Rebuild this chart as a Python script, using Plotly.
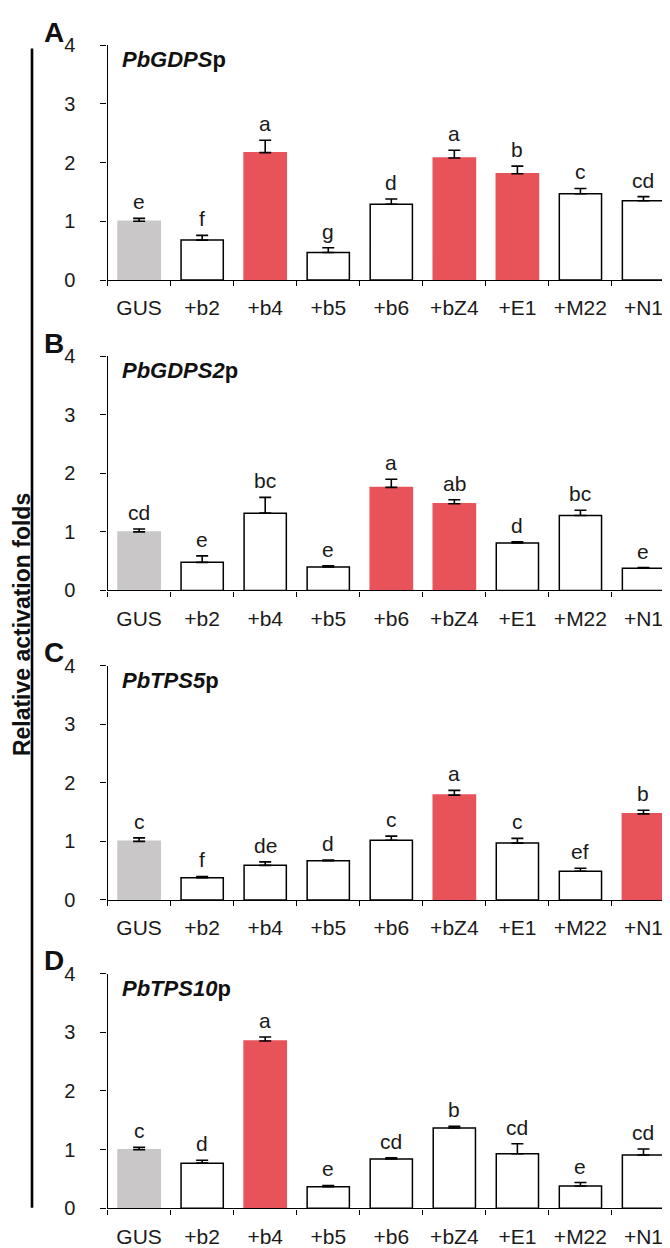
import plotly.graph_objects as go
from plotly.subplots import make_subplots

categories = ["GUS", "+b2", "+b4", "+b5", "+b6", "+bZ4", "+E1", "+M22", "+N1"]
panel_tags = ["A", "B", "C", "D"]
promoter_names = ["PbGDPS", "PbGDPS2", "PbTPS5", "PbTPS10"]
y_tick_values = [0, 1, 2, 3, 4]
y_title = "Relative activation folds"

# Panel A: PbGDPSp
a_values = [1.00, 0.68, 2.17, 0.47, 1.29, 2.08, 1.81, 1.47, 1.35]
a_errors = [0.05, 0.08, 0.21, 0.08, 0.09, 0.13, 0.13, 0.09, 0.07]
a_letters = ["e", "f", "a", "g", "d", "a", "b", "c", "cd"]
a_highlight = ["+b4", "+bZ4", "+E1"]

# Panel B: PbGDPS2p
b_values = [1.00, 0.48, 1.32, 0.40, 1.76, 1.48, 0.81, 1.28, 0.38]
b_errors = [0.05, 0.11, 0.27, 0.02, 0.14, 0.07, 0.02, 0.09, 0.01]
b_letters = ["cd", "e", "bc", "e", "a", "ab", "d", "bc", "e"]
b_highlight = ["+b6", "+bZ4"]

# Panel C: PbTPS5p
c_values = [1.00, 0.38, 0.59, 0.67, 1.02, 1.79, 0.97, 0.49, 1.47]
c_errors = [0.06, 0.02, 0.06, 0.01, 0.07, 0.08, 0.08, 0.05, 0.06]
c_letters = ["c", "f", "de", "d", "c", "a", "c", "ef", "b"]
c_highlight = ["+bZ4", "+N1"]

# Panel D: PbTPS10p
d_values = [1.00, 0.77, 2.85, 0.37, 0.84, 1.37, 0.93, 0.38, 0.91]
d_errors = [0.04, 0.05, 0.07, 0.02, 0.02, 0.03, 0.17, 0.06, 0.10]
d_letters = ["c", "d", "a", "e", "cd", "b", "cd", "e", "cd"]
d_highlight = ["+b4"]

control = "GUS"

panels = [
    (a_values, a_errors, a_letters, a_highlight),
    (b_values, b_errors, b_letters, b_highlight),
    (c_values, c_errors, c_letters, c_highlight),
    (d_values, d_errors, d_letters, d_highlight),
]

W, H = 670, 1248
FONT = "Liberation Sans, Arial, Helvetica, sans-serif"
RED = "#E8535A"
GRAY = "#C9C7C7"

# panel pixel geometry (top of y axis, zero line)
panel_px = [(26.7, 265.7), (343.3, 581.7), (658.3, 896.7), (971.7, 1210.7)]
x_dom = [99.6 / W, 667.0 / W]

fig = make_subplots(rows=4, cols=1)

for i, (vals, errs, lets, hl) in enumerate(panels):
    r = i + 1
    fills, lines = [], []
    for c in categories:
        if c == control:
            fills.append(GRAY); lines.append(GRAY)
        elif c in hl:
            fills.append(RED); lines.append(RED)
        else:
            fills.append("white"); lines.append("black")
    fig.add_trace(
        go.Bar(
            x=categories, y=vals,
            marker=dict(color=fills, line=dict(color=lines, width=1.5)),
            error_y=dict(type="data", array=errs, arrayminus=[0] * len(errs),
                         symmetric=False, color="black", thickness=1.6, width=6),
            showlegend=False,
        ),
        row=r, col=1,
    )
    t, b = panel_px[i]
    fig.update_yaxes(
        domain=[1 - b / H, 1 - t / H], range=[0, 4], tickvals=y_tick_values,
        ticks="outside", ticklen=6, tickwidth=1.2, tickcolor="black",
        showline=True, linecolor="black", linewidth=1.3, showgrid=False,
        zeroline=False, ticklabelstandoff=21,
        tickfont=dict(family=FONT, size=20, color="#1a1a1a"),
        row=r, col=1,
    )
    fig.update_xaxes(
        domain=x_dom, type="category", tickson="boundaries",
        ticks="outside", ticklen=5, tickwidth=1.2, tickcolor="black",
        showline=True, linecolor="black", linewidth=1.3, showgrid=False,
        tickfont=dict(family=FONT, size=21, color="#1a1a1a"),
        ticklabelstandoff=9,
        row=r, col=1,
    )
    xref = "x" if r == 1 else f"x{r}"
    yref = "y" if r == 1 else f"y{r}"
    for c, v, e, l in zip(categories, vals, errs, lets):
        fig.add_annotation(
            x=c, y=v + e, xref=xref, yref=yref, text=l, showarrow=False,
            yanchor="bottom", yshift=3,
            font=dict(family=FONT, size=21, color="#1a1a1a"),
        )
    # promoter name
    fig.add_annotation(
        x=112 / W, y=1 - (t + 15) / H, xref="paper", yref="paper",
        text=f"<b><i>{promoter_names[i]}</i>p</b>", showarrow=False,
        xanchor="left", yanchor="middle",
        font=dict(family=FONT, size=22, color="#111"),
    )
    # panel tag
    fig.add_annotation(
        x=46 / W, y=1 - (t - 13) / H, xref="paper", yref="paper",
        text=f"<b>{panel_tags[i]}</b>", showarrow=False,
        xanchor="center", yanchor="middle",
        font=dict(family=FONT, size=28, color="#111"),
    )

# shared y title and vertical bracket line
fig.add_annotation(
    x=0, y=1 - 617 / H, xref="paper", yref="paper", text=f"<b>{y_title}</b>",
    textangle=-90, showarrow=False, xanchor="left", yanchor="middle",
    borderpad=0, font=dict(family=FONT, size=23, color="#111"),
)
fig.add_shape(
    type="line", xref="paper", yref="paper",
    x0=24 / W, x1=24 / W, y0=1 - 30 / H, y1=1 - 1210 / H,
    line=dict(color="black", width=2.6),
)

fig.update_layout(
    width=W, height=H, margin=dict(l=0, r=0, t=0, b=0),
    paper_bgcolor="white", plot_bgcolor="white", bargap=0.33,
    font=dict(family=FONT),
)

fig.write_html("out.html")
